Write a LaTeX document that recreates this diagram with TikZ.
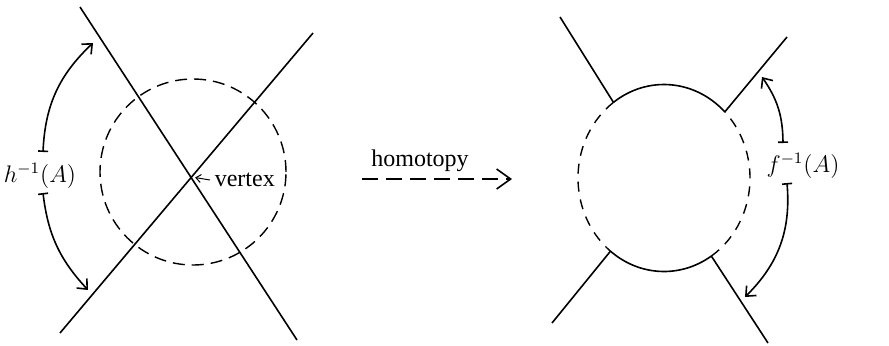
\documentclass[tikz,border=0pt]{standalone}
\usepackage{fontspec}
\setmainfont{Liberation Serif}
\usetikzlibrary{arrows.meta,calc}
\begin{document}
\begin{tikzpicture}[x=0.5pt,y=0.5pt,line width=0.8pt,
  font=\fontsize{12}{14}\selectfont,
  halo/.style={dash pattern=on 6pt off 3.5pt, line width=0.7pt},
  span/.style={{Bar[width=5pt,line width=0.8pt]}-{Straight Barb[length=4pt,width=7pt]}},
  lbl/.style={inner sep=0pt}]
\useasboundingbox (0,0) rectangle (889,345);

% crossing before the homotopy
\coordinate (a1) at (80,338);
\coordinate (a2) at (297,5);
\coordinate (b1) at (313,312);
\coordinate (b2) at (60,12);
\draw (a1) -- (a2);
\draw (b1) -- (b2);
\coordinate (vtx) at (intersection of a1--a2 and b1--b2);
\draw[halo] (193,173) circle[radius=93];
\node[lbl, inner xsep=2pt, anchor=west] (vlbl) at (210,165) {vertex};
\draw[-{Straight Barb[length=2.5pt,width=4pt]}, line width=0.5pt] (vlbl.west) -- ([xshift=2pt]vtx);

\node[lbl, anchor=base] (hlbl) at (40,163) {$h^{-1}(A)$};
\coordinate (h1) at (43,193);
\coordinate (h2) at (93,302);
\coordinate (h3) at (43,152);
\coordinate (h4) at (88,55);
\draw[span] (h1) to[bend left=22] (h2);
\draw[span] (h3) to[bend right=18] (h4);

% the arrow
\node[lbl, anchor=base] (hom) at (420,179) {homotopy};
\coordinate (m1) at (362,166);
\coordinate (m2) at (512,166);
\draw[dash pattern=on 8pt off 4pt, -{Straight Barb[length=7pt,width=10pt]}] (m1) -- (m2);

% after the homotopy
\coordinate (c) at (664,167);
\coordinate (p1) at ($(c)+(126:86 and 93.5)$);
\coordinate (p2) at ($(c)+(45:86 and 93.5)$);
\coordinate (p3) at ($(c)+(231.5:86 and 93.5)$);
\coordinate (p4) at ($(c)+(303.4:86 and 93.5)$);
\draw (p2) arc[start angle=45, end angle=126, x radius=86, y radius=93.5];
\draw (p3) arc[start angle=231.5, end angle=303.4, x radius=86, y radius=93.5];
\draw[halo, dash pattern=on 5pt off 4pt] (p1) arc[start angle=126, end angle=231.5, x radius=86, y radius=93.5];
\draw[halo, dash pattern=on 5pt off 4pt] (p4) arc[start angle=303.4, end angle=405, x radius=86, y radius=93.5];
\coordinate (q1) at (560,328);
\coordinate (q2) at (787,308);
\coordinate (q3) at (552,22);
\coordinate (q4) at (768,2);
\draw (q1) -- (p1);
\draw (q2) -- (p2);
\draw (q3) -- (p3);
\draw (p4) -- (q4);

\node[lbl, anchor=base] (flbl) at (803,173) {$f^{-1}(A)$};
\coordinate (f1) at (783,202);
\coordinate (f2) at (762,268);
\coordinate (f3) at (787,162);
\coordinate (f4) at (745,48);
\draw[span] (f1) to[bend right=17] (f2);
\draw[span] (f3) to[bend left=25] (f4);
\end{tikzpicture}
\end{document}
